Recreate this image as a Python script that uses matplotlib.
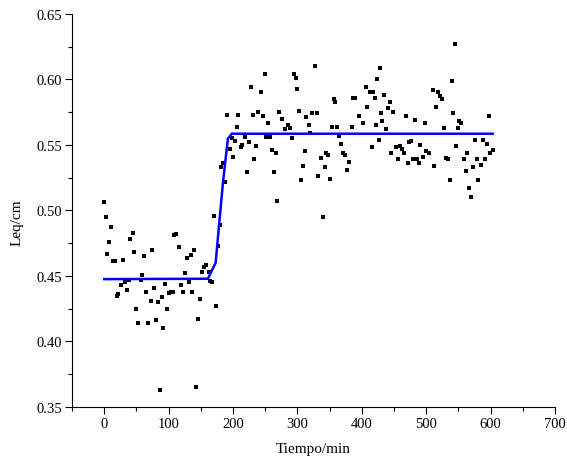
import matplotlib
matplotlib.use("Agg")
import matplotlib.pyplot as plt
from matplotlib.ticker import MultipleLocator

plt.rcParams['font.family'] = ['Liberation Serif', 'DejaVu Serif']

# --- measured points (time in min, Leq in cm) ---
tiempo = [0, 2, 5, 8, 11, 14, 17, 20, 22, 26, 29, 32, 35, 38, 40, 44, 47, 50, 53, 57,
          59, 62, 65, 68, 72, 74, 77, 80, 83, 86, 89, 92, 95, 98, 101, 104, 107, 109, 112, 116,
          119, 122, 125, 129, 132, 134, 137, 140, 143, 146, 149, 152, 155, 158, 162, 165, 168, 170, 173, 177,
          180, 182, 185, 188, 191, 195, 199, 200, 203, 206, 208, 212, 214, 219, 221, 225, 228, 231, 233, 236,
          239, 243, 246, 249, 251, 255, 257, 260, 263, 266, 269, 272, 276, 280, 285, 288, 291, 294, 297, 300,
          303, 306, 308, 312, 314, 318, 320, 323, 327, 330, 332, 336, 339, 342, 344, 348, 350, 354, 356, 359,
          362, 365, 368, 371, 374, 377, 380, 384, 386, 389, 395, 401, 406, 408, 412, 416, 418, 420, 422, 424,
          426, 428, 429, 432, 434, 438, 441, 444, 446, 449, 453, 456, 459, 462, 465, 468, 471, 473, 477, 480,
          482, 486, 489, 491, 495, 498, 500, 504, 510, 512, 515, 518, 521, 525, 528, 530, 534, 537, 540, 542,
          545, 546, 549, 551, 554, 558, 561, 564, 567, 570, 573, 576, 579, 581, 585, 588, 591, 594, 597, 599,
          603]
leq = [0.506, 0.495, 0.467, 0.476, 0.487, 0.461, 0.461, 0.435, 0.436, 0.443, 0.462, 0.445, 0.439, 0.447, 0.478, 0.483, 0.468, 0.425, 0.414, 0.447,
       0.451, 0.465, 0.438, 0.414, 0.431, 0.470, 0.441, 0.416, 0.430, 0.363, 0.434, 0.410, 0.444, 0.425, 0.437, 0.438, 0.438, 0.481, 0.482, 0.472,
       0.443, 0.438, 0.452, 0.464, 0.445, 0.466, 0.438, 0.470, 0.365, 0.417, 0.432, 0.453, 0.457, 0.458, 0.453, 0.446, 0.445, 0.496, 0.427, 0.473,
       0.489, 0.533, 0.536, 0.522, 0.573, 0.547, 0.555, 0.541, 0.553, 0.564, 0.573, 0.548, 0.550, 0.556, 0.529, 0.552, 0.594, 0.573, 0.539, 0.549,
       0.575, 0.590, 0.572, 0.604, 0.556, 0.567, 0.556, 0.546, 0.529, 0.544, 0.507, 0.575, 0.570, 0.562, 0.565, 0.563, 0.555, 0.604, 0.601, 0.593,
       0.576, 0.523, 0.534, 0.545, 0.571, 0.565, 0.559, 0.574, 0.610, 0.574, 0.526, 0.540, 0.495, 0.533, 0.544, 0.542, 0.524, 0.564, 0.585, 0.583,
       0.564, 0.557, 0.551, 0.544, 0.542, 0.531, 0.537, 0.564, 0.586, 0.586, 0.572, 0.567, 0.594, 0.579, 0.590, 0.548, 0.590, 0.586, 0.565, 0.600,
       0.554, 0.609, 0.574, 0.568, 0.588, 0.562, 0.578, 0.583, 0.544, 0.575, 0.548, 0.539, 0.549, 0.547, 0.544, 0.572, 0.536, 0.552, 0.553, 0.539,
       0.569, 0.539, 0.536, 0.550, 0.541, 0.567, 0.545, 0.544, 0.592, 0.534, 0.579, 0.590, 0.587, 0.585, 0.563, 0.540, 0.539, 0.523, 0.599, 0.574,
       0.627, 0.549, 0.563, 0.568, 0.567, 0.539, 0.530, 0.544, 0.517, 0.510, 0.533, 0.554, 0.539, 0.523, 0.535, 0.554, 0.539, 0.551, 0.572, 0.544,
       0.546]

# --- fitted curve ---
fit_t = [0, 161, 173, 184.5, 192, 198, 603]
fit_leq = [0.4475, 0.4478, 0.460, 0.522, 0.5546, 0.5585, 0.5585]

fig = plt.figure(figsize=(5.67, 4.64), dpi=100)
ax = fig.add_axes([0.127, 0.121, 0.852, 0.847])

ax.scatter(tiempo, leq, marker='s', s=12, c='black', linewidths=0, zorder=2)
ax.plot(fit_t, fit_leq, color='#0000ff', lw=1.8, zorder=3)

ax.set_xlim(-50, 700)
ax.set_ylim(0.35, 0.65)
ax.xaxis.set_major_locator(MultipleLocator(100))
ax.xaxis.set_minor_locator(MultipleLocator(50))
ax.yaxis.set_major_locator(MultipleLocator(0.05))
ax.yaxis.set_minor_locator(MultipleLocator(0.025))
ax.yaxis.set_major_formatter(plt.FuncFormatter(lambda v, p: f"{v:.2f}"))

for s in ['top', 'right']:
    ax.spines[s].set_visible(False)
ax.tick_params(which='major', direction='out', length=5, width=0.8, labelsize=10.5, pad=2)
ax.tick_params(which='minor', direction='out', length=3, width=0.8)

ax.set_xlabel("Tiempo/min", fontsize=11)
ax.set_ylabel("Leq/cm", fontsize=11)
ax.xaxis.set_label_coords(0.5, -0.09)
ax.yaxis.set_label_coords(-0.1, 0.47)

fig.savefig("out.png", dpi=100)
